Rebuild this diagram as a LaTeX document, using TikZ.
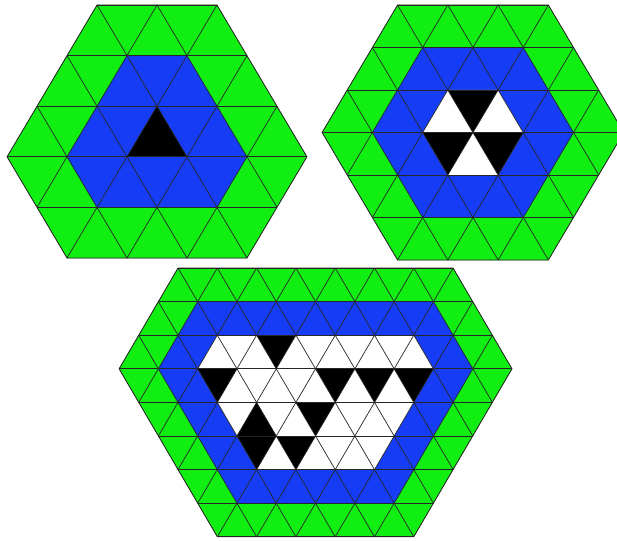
\documentclass[tikz,border=0pt]{standalone}
\usepackage{tikz}
\definecolor{grass}{HTML}{11EE11}
\definecolor{sea}{HTML}{163CF6}
\tikzset{mesh/.style={draw=black!85,line width=0.7pt}}
\newcommand{\upcell}[2]{\fill[black] (#1,#2) -- ++(-1,1) -- ++(1,0) -- cycle;}
\newcommand{\downcell}[2]{\fill[black] (#1,#2) -- ++(1,0) -- ++(-1,1) -- cycle;}
\newcommand{\trimesh}[1]{%
  \foreach \r in {0,...,#1} \draw[mesh] (-15,\r) -- (15,\r);
  \foreach \k in {-15,...,15} {
    \draw[mesh] (\k,-1) -- (\k,#1+1);
    \draw[mesh] (\k,-1) -- (\k-#1-2,#1+1);
  }}

\begin{document}
\begin{tikzpicture}[x=1pt,y=-1pt]
\useasboundingbox (0,0) rectangle (617,540);

\begin{scope}[shift={(97,5)},x={(60pt,0pt)},y={(30pt,-50.6pt)}]
  \fill[grass] (0,0) -- (2,0) -- (2,3) -- (0,5) -- (-3,5) -- (-3,3) -- cycle;
  \fill[sea] (0,1) -- (1,1) -- (1,3) -- (0,4) -- (-2,4) -- (-2,3) -- cycle;
  \upcell{0}{2}
  \begin{scope}
    \clip (0,0) -- (2,0) -- (2,3) -- (0,5) -- (-3,5) -- (-3,3) -- cycle;
    \trimesh{5}
  \end{scope}
  \draw[mesh] (0,0) -- (2,0) -- (2,3) -- (0,5) -- (-3,5) -- (-3,3) -- cycle;
\end{scope}

\begin{scope}[shift={(397.5,5)},x={(50.3pt,0pt)},y={(25.15pt,-42.5pt)}]
  \fill[grass] (0,0) -- (3,0) -- (3,3) -- (0,6) -- (-3,6) -- (-3,3) -- cycle;
  \fill[sea] (0,1) -- (2,1) -- (2,3) -- (0,5) -- (-2,5) -- (-2,3) -- cycle;
  \fill[white] (0,2) -- (1,2) -- (1,3) -- (0,4) -- (-1,4) -- (-1,3) -- cycle;
  \downcell{0}{2}
  \downcell{-1}{3}
  \downcell{0}{3}
  \begin{scope}
    \clip (0,0) -- (3,0) -- (3,3) -- (0,6) -- (-3,6) -- (-3,3) -- cycle;
    \trimesh{6}
  \end{scope}
  \draw[mesh] (0,0) -- (3,0) -- (3,3) -- (0,6) -- (-3,6) -- (-3,3) -- cycle;
\end{scope}

\begin{scope}[shift={(178,268)},x={(39.3pt,0pt)},y={(19.65pt,-33.6pt)}]
  \fill[grass] (0,0) -- (7,0) -- (7,3) -- (2,8) -- (-3,8) -- (-3,3) -- cycle;
  \fill[sea] (0,1) -- (6,1) -- (6,3) -- (2,7) -- (-2,7) -- (-2,3) -- cycle;
  \fill[white] (0,2) -- (5,2) -- (5,3) -- (2,6) -- (-1,6) -- (-1,3) -- cycle;
  \downcell{1}{2}
  \foreach \k in {-1,2,3,4} {\downcell{\k}{3}}
  \upcell{0}{4}
  \downcell{1}{4}
  \downcell{-1}{5}
  \downcell{0}{5}
  \begin{scope}
    \clip (0,0) -- (7,0) -- (7,3) -- (2,8) -- (-3,8) -- (-3,3) -- cycle;
    \trimesh{8}
  \end{scope}
  \draw[mesh] (0,0) -- (7,0) -- (7,3) -- (2,8) -- (-3,8) -- (-3,3) -- cycle;
\end{scope}
\end{tikzpicture}
\end{document}
